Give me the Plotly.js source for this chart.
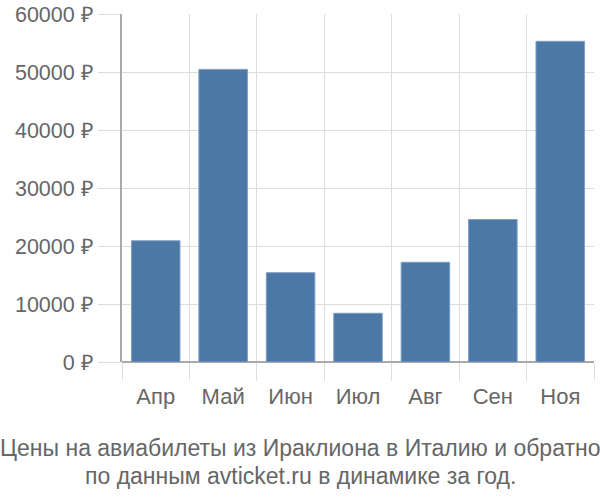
<!DOCTYPE html>
<html><head><meta charset="utf-8">
<script src="https://cdn.plot.ly/plotly-3.0.1.min.js"></script>
<style>html,body{margin:0;padding:0;background:#fff}</style>
</head><body>
<div id="chart" style="width:600px;height:500px"></div>
<script>
const months = ["Апр","Май","Июн","Июл","Авг","Сен","Ноя"];
const prices = [20900, 50450, 15400, 8400, 17200, 24570, 55290];
const yTicks = [0, 10000, 20000, 30000, 40000, 50000, 60000];
const yTickText = yTicks.map(v => v + " ₽");
const titleLines = ["Цены на авиабилеты из Ираклиона в Италию и обратно", "по данным avticket.ru в динамике за год."];

const FONT = "Liberation Sans, Arial, sans-serif";
Plotly.newPlot("chart", [{
  type: "bar",
  x: months,
  y: prices,
  marker: {color: "#4c78a6", line: {color: "#7f9fc4", width: 1}},
  hoverinfo: "none"
}], {
  width: 600, height: 500,
  margin: {l: 122, r: 6, t: 14, b: 138},
  paper_bgcolor: "#fff", plot_bgcolor: "#fff",
  font: {family: FONT, size: 21, color: "#666"},
  bargap: 0.28,
  showlegend: false,
  annotations: titleLines.map((t, i) => ({
    text: t, xref: "paper", yref: "paper", x: 0.5 - 122/472/2 + 6/472/2 - 0.0, xanchor: "center",
    y: [-0.247, -0.3276][i], yanchor: "middle", showarrow: false,
    font: {family: FONT, size: 23, color: "#666"}
  })),
  xaxis: {
    type: "category", tickson: "boundaries", ticks: "outside", ticklen: 18, tickcolor: "#ddd",
    showgrid: true, gridcolor: "#ddd", gridwidth: 1, showline: false, zeroline: false,
    ticklabelstandoff: 19,
    tickfont: {family: FONT, size: 22, color: "#666"}
  },
  yaxis: {
    range: [0, 60000], tickmode: "array", tickvals: yTicks, ticktext: yTickText,
    ticks: "outside", ticklen: 22, tickcolor: "#ddd",
    showgrid: true, gridcolor: "#ddd", gridwidth: 1, zeroline: true, zerolinecolor: "#aaa", zerolinewidth: 2,
    showline: true, linecolor: "#aaa", linewidth: 2, tickfont: {family: FONT, size: 21.5, color: "#666"}
  }
}, {staticPlot: true});
</script>
</body></html>
